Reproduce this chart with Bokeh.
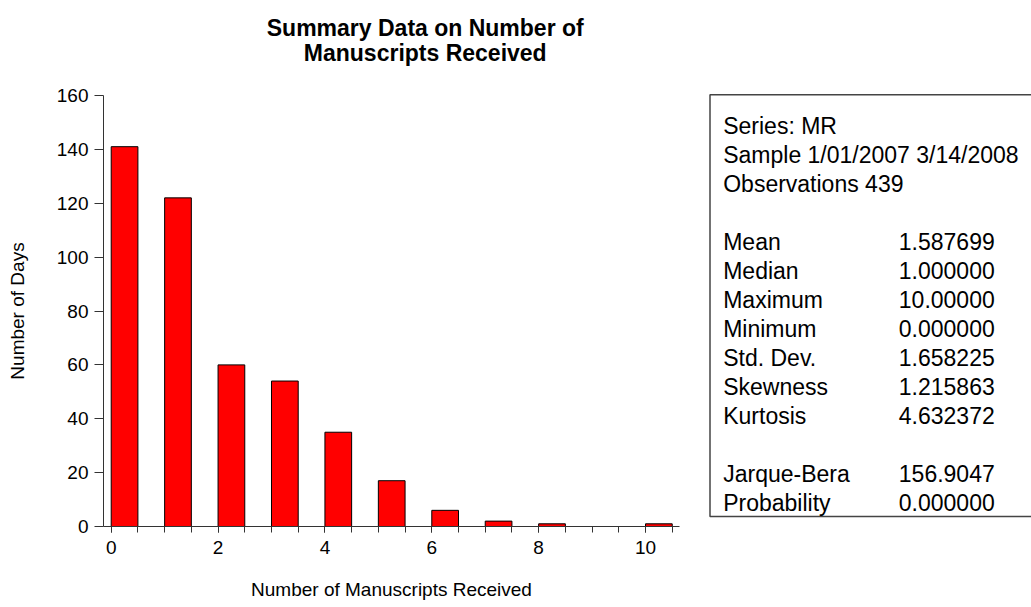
from bokeh.plotting import figure
from bokeh.models import Range1d, FixedTicker
from bokeh.layouts import row, column
from bokeh.embed import file_html
from bokeh.resources import INLINE
from bokeh.core.properties import value

# ---- data ----
mr_values = [0, 1, 2, 3, 4, 5, 6, 7, 8, 9, 10]
day_counts = [141, 122, 60, 54, 35, 17, 6, 2, 1, 0, 1]
x_tick_values = [0, 2, 4, 6, 8, 10]
x_minor_ticks = [0, 0.5, 1, 1.5, 2, 2.5, 3, 3.5, 4, 4.5, 5, 5.5, 6, 6.5, 7, 7.5, 8, 8.5, 9, 9.5, 10, 10.5]
y_tick_values = [0, 20, 40, 60, 80, 100, 120, 140, 160]
title_lines = ["Summary Data on Number of", "Manuscripts Received"]
x_label = "Number of Manuscripts Received"
y_label = "Number of Days"
header_lines = ["Series: MR", "Sample 1/01/2007 3/14/2008", "Observations 439"]
stat_names = ["Mean", "Median", "Maximum", "Minimum", "Std. Dev.", "Skewness", "Kurtosis"]
stat_values = ["1.587699", "1.000000", "10.00000", "0.000000", "1.658225", "1.215863", "4.632372"]
test_names = ["Jarque-Bera", "Probability"]
test_values = ["156.9047", "0.000000"]

FONT = "Liberation Sans"
BIN_W = 0.5

LEFT_W = 700
TOTAL_W = 1031
TOTAL_H = 607
TITLE_H = 78

# ---- title figure ----
t = figure(width=LEFT_W, height=TITLE_H, x_range=Range1d(0, LEFT_W), y_range=Range1d(0, TITLE_H),
           x_axis_location=None, y_axis_location=None, toolbar_location=None,
           output_backend="svg", min_border=0, min_border_left=0, min_border_right=0,
           min_border_top=0, min_border_bottom=0)
t.outline_line_color = None
t.grid.visible = False
t.text(x=[391, 391], y=[50.3, 25.3], text=title_lines, text_font=value(FONT),
       text_font_size="23px", text_font_style="bold", text_align="center",
       text_baseline="alphabetic", text_color="black")

# ---- histogram figure ----
H_H = TOTAL_H - TITLE_H
p = figure(width=LEFT_W, height=H_H, x_range=Range1d(-0.144, 10.636), y_range=Range1d(0, 160),
           toolbar_location=None, output_backend="svg",
           min_border_left=103, min_border_right=21, min_border_top=17, min_border_bottom=81)
p.outline_line_color = None
p.grid.visible = False

lefts = [v for v in mr_values]
rights = [v + BIN_W for v in mr_values]
p.quad(left=lefts, right=rights, bottom=0, top=day_counts,
       fill_color="#FF0000", line_color="black", line_width=1)

p.xaxis.ticker = FixedTicker(ticks=x_tick_values, minor_ticks=x_minor_ticks)
p.yaxis.ticker = FixedTicker(ticks=y_tick_values)
for ax in (p.xaxis, p.yaxis):
    ax.axis_line_color = "#333333"
    ax.major_tick_line_color = "#333333"
    ax.minor_tick_line_color = "#333333"
    ax.major_tick_in = 0
    ax.minor_tick_in = 0
    ax.major_label_text_font = FONT
    ax.major_label_text_font_size = "19px"
    ax.major_label_text_color = "black"
    ax.axis_label_text_font = FONT
    ax.axis_label_text_font_size = "19px"
    ax.axis_label_text_font_style = "normal"
    ax.axis_label_text_color = "black"
p.xaxis.major_tick_out = 6
p.xaxis.minor_tick_out = 6
p.yaxis.major_tick_out = 9
p.yaxis.minor_tick_line_color = None
p.xaxis.major_label_standoff = 8
p.yaxis.major_label_standoff = 6
p.xaxis.axis_label = x_label
p.yaxis.axis_label = y_label
p.xaxis.axis_label_standoff = 22
p.yaxis.axis_label_standoff = 26

# ---- statistics box figure ----
S_W = TOTAL_W - LEFT_W
s = figure(width=S_W, height=TOTAL_H, x_range=Range1d(0, S_W), y_range=Range1d(0, TOTAL_H),
           x_axis_location=None, y_axis_location=None, toolbar_location=None,
           output_backend="svg", min_border=0, min_border_left=0, min_border_right=0,
           min_border_top=0, min_border_bottom=0)
s.outline_line_color = None
s.grid.visible = False
# box open on the right: it runs off the right edge of the page
s.line(x=[S_W + 40, 9.5, 9.5, S_W + 40], y=[512.7, 512.7, 91, 91],
       line_color="#444444", line_width=1.5)

def y_of(i):
    return TOTAL_H - (125 + 29 * i)

txt_x, txt_y, txt = [], [], []
for i, line in enumerate(header_lines):
    txt_x.append(22.7); txt_y.append(y_of(i)); txt.append(line)
for j, (n, v) in enumerate(zip(stat_names, stat_values)):
    txt_x += [22.7, 198.3]; txt_y += [y_of(4 + j)] * 2; txt += [n, v]
for j, (n, v) in enumerate(zip(test_names, test_values)):
    txt_x += [22.7, 198.3]; txt_y += [y_of(12 + j)] * 2; txt += [n, v]
s.text(x=txt_x, y=txt_y, text=txt, text_font=value(FONT), text_font_size="23px",
       text_align="left", text_baseline="alphabetic", text_color="black")

layout = row(column(t, p, spacing=0), s, spacing=0)
open("out.html", "w").write(file_html(layout, INLINE))
